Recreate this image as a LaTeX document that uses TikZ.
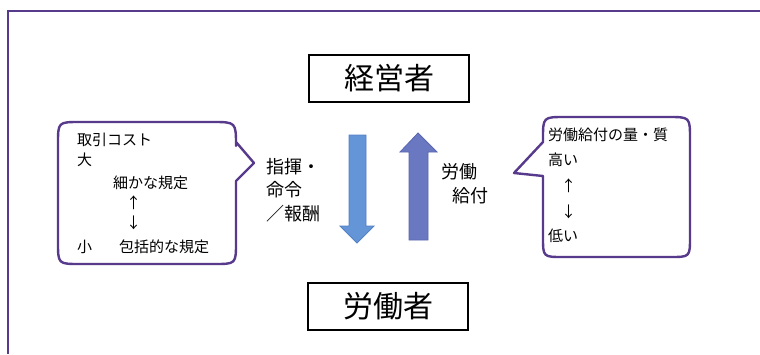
\documentclass[tikz,border=0pt]{standalone}
\usepackage{fontspec}
\setmainfont{Noto Sans CJK JP}
\definecolor{frameC}{RGB}{88,58,140}
\definecolor{downC}{RGB}{100,149,214}
\definecolor{downB}{RGB}{84,128,196}
\definecolor{upC}{RGB}{106,120,194}
\definecolor{upB}{RGB}{90,102,176}
\tikzset{
  frameline/.style={draw=frameC, line width=2pt},
  callout/.style={draw=frameC, line width=2.4pt, fill=white, line join=round},
  actor/.style={draw=black, line width=2pt, minimum width=160pt, minimum height=47pt, inner sep=0pt, font=\fontsize{30}{30}\selectfont},
  lbl/.style={anchor=west, inner sep=0pt, font=\fontsize{18}{18}\selectfont},
  small/.style={anchor=west, inner sep=0pt, font=\fontsize{15}{15}\selectfont},
}
\begin{document}
\begin{tikzpicture}[x=1pt,y=-1pt]
\useasboundingbox (0,0) rectangle (760,354);
\fill[white] (0,0) rectangle (760,354);
% outer frame
\draw[frameline] (760,11) -- (8,11) -- (8,354);
% actor boxes
\node[actor] (mgr) at (389,78) {経営者};
\node[actor] (wkr) at (388,306.5) {労働者};
% arrows
\draw[fill=downC, draw=downB, line width=0.8pt, line join=miter]
  (349,135) -- (366,135) -- (366,226) -- (374,226) -- (357,243) -- (340,226) -- (349,226) -- cycle;
\draw[fill=upC, draw=upB, line width=0.8pt, line join=miter]
  (409,240) -- (428,240) -- (428,152) -- (437,152) -- (418,133) -- (400,152) -- (409,152) -- cycle;
% labels by arrows
\node[lbl] (c1) at (266,167) {指揮・};
\node[lbl] (c2) at (266,190) {命令};
\node[lbl] (c3) at (266,214) {／報酬};
\node[lbl] (l1) at (441,172) {労働};
\node[lbl] (l2) at (452,196) {給付};
% left callout
\draw[callout] (236,142) -- (254,163) -- (236,181) -- (236,242)
  .. controls (236,264) .. (214,264) -- (80,264)
  .. controls (58,264) .. (58,242) -- (58,144)
  .. controls (58,122) .. (80,122) -- (212,122)
  .. controls (236,122) .. (236,146) -- cycle;
\node[small] (a1) at (77,140) {取引コスト};
\node[small] (a2) at (77,160) {大};
\node[small] (a3) at (113,183) {細かな規定};
\node[small] (a4) at (126,203) {↑};
\node[small] (a5) at (126,223) {↓};
\node[small] (a6) at (77,247) {小};
\node[small] (a7) at (119,247) {包括的な規定};
% right callout
\draw[callout] (543,176) -- (543,237)
  .. controls (543,257) .. (563,257) -- (670,257)
  .. controls (690,257) .. (690,237) -- (690,139)
  .. controls (690,117) .. (668,117) -- (565,117)
  .. controls (543,117) .. (543,139) -- (543,142) -- (514,173) -- cycle;
\node[small] (b1) at (548,135) {労働給付の量・質};
\node[small] (b2) at (548,160) {高い};
\node[small] (b3) at (561,186) {↑};
\node[small] (b4) at (561,212) {↓};
\node[small] (b5) at (548,236) {低い};
\end{tikzpicture}
\end{document}
